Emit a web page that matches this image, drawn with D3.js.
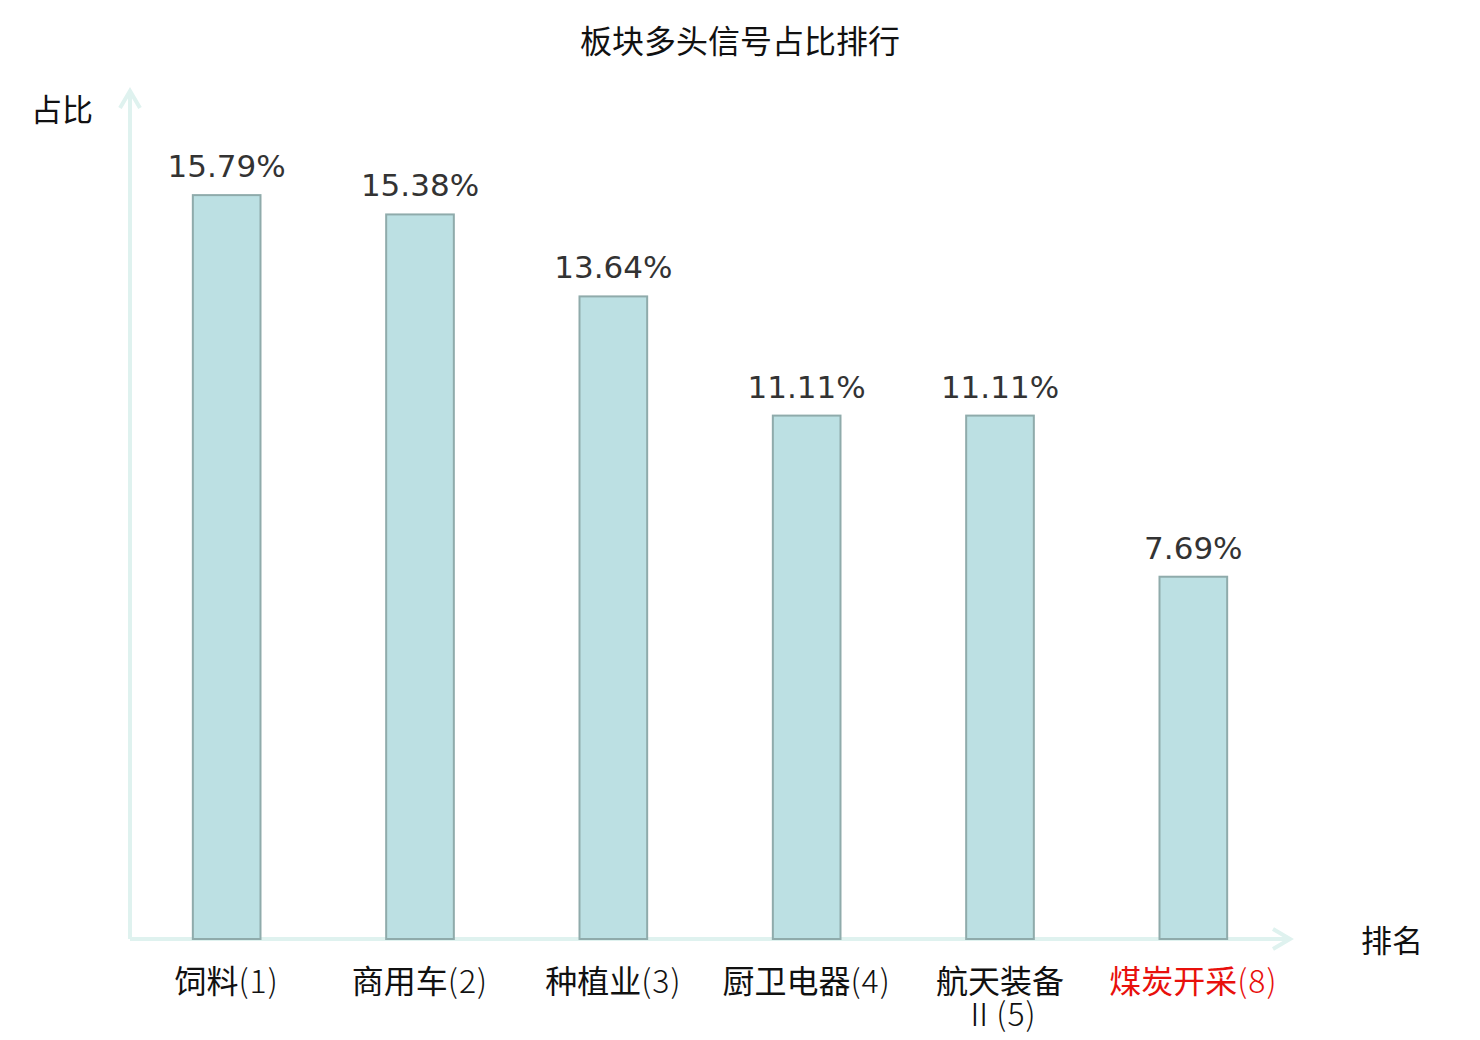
<!DOCTYPE html>
<html>
<head>
<meta charset="utf-8">
<script src="https://cdn.jsdelivr.net/npm/d3@7"></script>
<style>
  body { margin: 0; background: #fff; }
  text { font-family: "Noto Sans CJK SC", "DejaVu Sans", sans-serif; }
</style>
</head>
<body>
<div id="chart"></div>
<script>
const categories = ["饲料(1)", "商用车(2)", "种植业(3)", "厨卫电器(4)", "航天装备Ⅱ(5)", "煤炭开采(8)"];
const values = [15.79, 15.38, 13.64, 11.11, 11.11, 7.69];
const highlighted = ["煤炭开采(8)"];

const width = 1480, height = 1040;
const x0 = 130, x1 = 1290, y0 = 939, yTop = 91;

const svg = d3.select("#chart").append("svg")
  .attr("width", width)
  .attr("height", height);

const x = d3.scaleBand()
  .domain(categories)
  .range([x0, x1])
  .paddingInner(0.65)
  .paddingOuter(0.325);

const y = d3.scaleLinear()
  .domain([0, 18])
  .range([y0, yTop]);

// title
svg.append("text")
  .attr("x", 740).attr("y", 53)
  .attr("text-anchor", "middle")
  .style("font-size", "32px")
  .style("fill", "#111")
  .text("板块多头信号占比排行");

// axes with open arrows
const axisColor = "#dff2ef";
svg.append("line")
  .attr("x1", x0).attr("y1", y0).attr("x2", x0).attr("y2", yTop)
  .attr("stroke", axisColor).attr("stroke-width", 4);
svg.append("path")
  .attr("d", `M${x0 - 10},${yTop + 17}L${x0},${yTop}L${x0 + 10},${yTop + 17}`)
  .attr("fill", "none").attr("stroke", axisColor).attr("stroke-width", 4);
svg.append("line")
  .attr("x1", x0).attr("y1", y0).attr("x2", x1).attr("y2", y0)
  .attr("stroke", axisColor).attr("stroke-width", 4);
svg.append("path")
  .attr("d", `M${x1 - 17},${y0 - 10}L${x1},${y0}L${x1 - 17},${y0 + 10}`)
  .attr("fill", "none").attr("stroke", axisColor).attr("stroke-width", 4);

// axis names
svg.append("text")
  .attr("x", 93).attr("y", 121)
  .attr("text-anchor", "end")
  .style("font-size", "31px").style("fill", "#111")
  .text("占比");
svg.append("text")
  .attr("x", 1392).attr("y", 952)
  .attr("text-anchor", "middle")
  .style("font-size", "31px").style("fill", "#111")
  .text("排名");

// bars
svg.selectAll("rect.bar")
  .data(values)
  .join("rect")
  .attr("class", "bar")
  .attr("x", (d, i) => x(categories[i]))
  .attr("y", d => y(d))
  .attr("width", x.bandwidth())
  .attr("height", d => y0 - y(d))
  .attr("fill", "#bce0e3")
  .attr("stroke", "#8fabab")
  .attr("stroke-width", 2);

// value labels
svg.selectAll("text.val")
  .data(values)
  .join("text")
  .attr("class", "val")
  .attr("x", (d, i) => x(categories[i]) + x.bandwidth() / 2)
  .attr("y", d => y(d) - 18)
  .attr("text-anchor", "middle")
  .style("font-family", "'DejaVu Sans', sans-serif")
  .style("font-size", "31px")
  .style("fill", "#333")
  .text(d => d.toFixed(2) + "%");

// category labels (wrap long ones); the non-CJK tail is set lighter
const lab = svg.selectAll("text.cat")
  .data(categories)
  .join("text")
  .attr("class", "cat")
  .attr("x", d => x(d) + x.bandwidth() / 2)
  .attr("y", 993)
  .attr("text-anchor", "middle")
  .style("font-size", "32px")
  .style("fill", d => highlighted.includes(d) ? "#e8100c" : "#111");

lab.each(function(d) {
  const t = d3.select(this);
  const lines = d.length > 7 ? [d.slice(0, 4), d.slice(4)] : [d];
  lines.forEach((s, i) => {
    let cut = s.search(/[Ⅱ(]/);
    if (cut < 0) cut = s.length;
    const line = t.append("tspan")
      .attr("x", x(d) + x.bandwidth() / 2)
      .attr("dy", i === 0 ? 0 : 33);
    if (cut > 0) line.append("tspan").text(s.slice(0, cut));
    if (cut < s.length) {
      line.append("tspan")
        .style("font-weight", 300)
        .style("letter-spacing", "1px")
        .text(s.slice(cut));
    }
  });
});
</script>
</body>
</html>
